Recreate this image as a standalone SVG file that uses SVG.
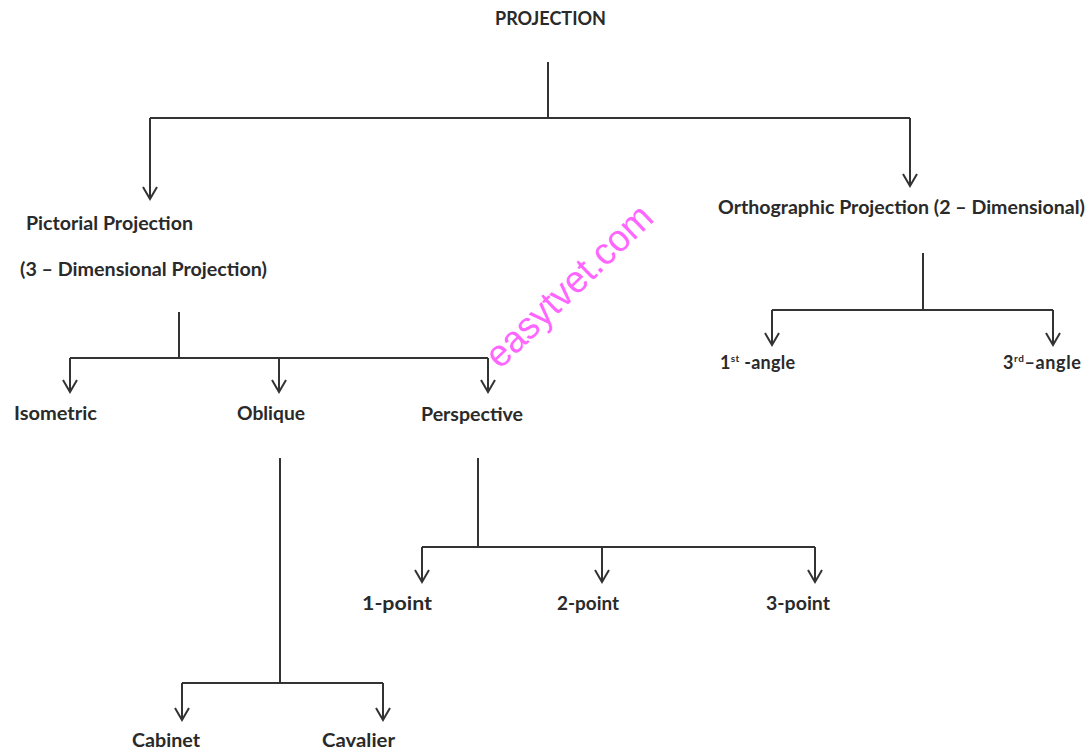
<svg xmlns="http://www.w3.org/2000/svg" width="1091" height="751" viewBox="0 0 1091 751">
<style>
.t{font-family:Lato,"Open Sans","Liberation Sans",sans-serif;font-weight:bold;font-size:18px;fill:#2a2a2a}
.c{fill:none;stroke:#333;stroke-width:2}
.a{marker-end:url(#arr)}
.wm{font-family:"Liberation Sans",Arial,sans-serif;font-size:38px;fill:#ff66ff}
</style>
<defs>
<marker id="arr" markerUnits="userSpaceOnUse" markerWidth="30" markerHeight="30" refX="0" refY="0" orient="auto" overflow="visible">
<path d="M-12,-7 L0,0 L-12,7" fill="none" stroke="#333" stroke-width="2"/>
</marker>
</defs>
<rect width="1091" height="751" fill="#fff"/>
<g id="connectors">
<path class="c" d="M548,62 V118 M150,118 H910"/>
<path class="c a" d="M150,118 V199"/>
<path class="c a" d="M910,118 V186"/>
<path class="c" d="M179,312 V358 M70,358 H488"/>
<path class="c a" d="M70,358 V392"/>
<path class="c a" d="M279,358 V392"/>
<path class="c a" d="M488,358 V392"/>
<path class="c" d="M923,253 V310 M772,310 H1053"/>
<path class="c a" d="M772,310 V345"/>
<path class="c a" d="M1053,310 V345"/>
<path class="c" d="M280,458 V683 M182,683 H383"/>
<path class="c a" d="M182,683 V720"/>
<path class="c a" d="M383,683 V720"/>
<path class="c" d="M478,458 V547 M422,547 H815"/>
<path class="c a" d="M422,547 V582"/>
<path class="c a" d="M602,547 V582"/>
<path class="c a" d="M815,547 V582"/>
</g>
<g id="projection"><text class="t" x="495" y="25" textLength="111" lengthAdjust="spacingAndGlyphs">PROJECTION</text></g>
<g id="pictorial">
<text class="t" x="26" y="230" textLength="167" lengthAdjust="spacingAndGlyphs">Pictorial  Projection</text>
<text class="t" x="20" y="276" textLength="247" lengthAdjust="spacingAndGlyphs">(3 – Dimensional  Projection)</text>
</g>
<g id="orthographic"><text class="t" x="718" y="214" textLength="367" lengthAdjust="spacingAndGlyphs">Orthographic Projection (2 – Dimensional)</text></g>
<g id="first-angle"><text class="t" x="720" y="369" font-size="19" letter-spacing="0.3">1<tspan font-size="10" dy="-7">st</tspan><tspan dy="7"> -angle</tspan></text></g>
<g id="third-angle"><text class="t" x="1003" y="369" font-size="19" letter-spacing="0.6">3<tspan font-size="10" dy="-7">rd</tspan><tspan dy="7">–angle</tspan></text></g>
<g id="isometric"><text class="t" x="14" y="420" textLength="83" lengthAdjust="spacingAndGlyphs">Isometric</text></g>
<g id="oblique"><text class="t" x="237" y="420" textLength="68" lengthAdjust="spacingAndGlyphs">Oblique</text></g>
<g id="perspective"><text class="t" x="421" y="421" textLength="102" lengthAdjust="spacingAndGlyphs">Perspective</text></g>
<g id="one-point"><text class="t" x="362" y="610" textLength="70" lengthAdjust="spacingAndGlyphs">1-point</text></g>
<g id="two-point"><text class="t" x="557" y="610" textLength="62" lengthAdjust="spacingAndGlyphs">2-point</text></g>
<g id="three-point"><text class="t" x="766" y="610" textLength="64" lengthAdjust="spacingAndGlyphs">3-point</text></g>
<g id="cabinet"><text class="t" x="132" y="747" textLength="68" lengthAdjust="spacingAndGlyphs">Cabinet</text></g>
<g id="cavalier"><text class="t" x="322" y="747" textLength="73" lengthAdjust="spacingAndGlyphs">Cavalier</text></g>
<text class="wm" transform="translate(500,370) rotate(-44)" textLength="216" lengthAdjust="spacingAndGlyphs">easytvet.com</text>
</svg>
